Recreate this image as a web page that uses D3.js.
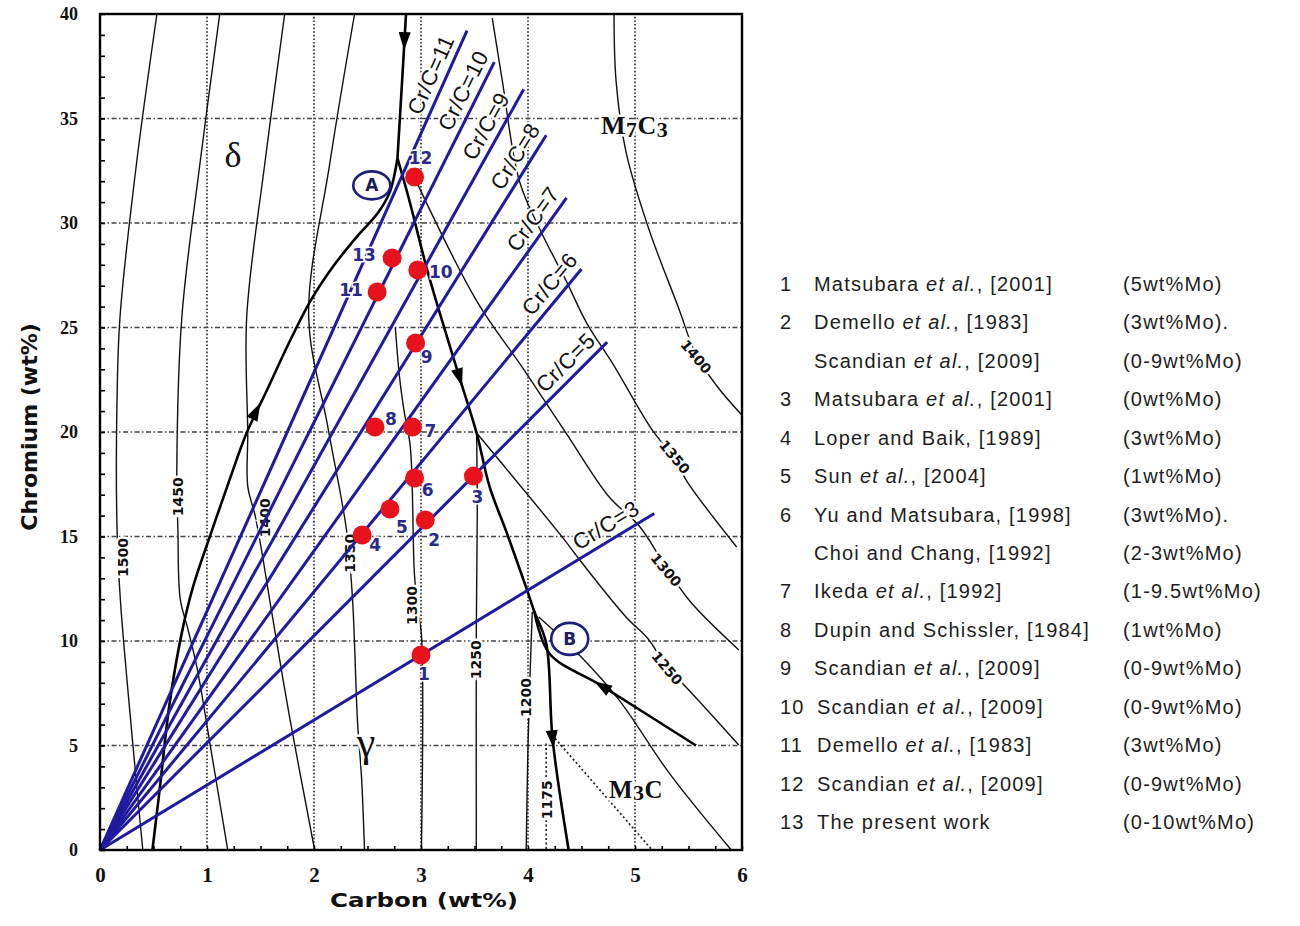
<!DOCTYPE html>
<html>
<head>
<meta charset="utf-8">
<script src="https://cdn.jsdelivr.net/npm/d3@7"></script>
<style>
  body { margin: 0; background: #fff; }
  svg { display: block; }
</style>
</head>
<body>
<div id="chart"></div>
<script>
// ---------- data (C wt%, Cr wt%) ----------
const xTicks = [0, 1, 2, 3, 4, 5, 6];
const yTicks = [0, 5, 10, 15, 20, 25, 30, 35, 40];

// Cr/C ratio lines from the origin
const crRatio = [11, 10, 9, 8, 7, 6, 5, 3];
const crEndC  = [3.43, 3.685, 3.96, 4.17, 4.36, 4.50, 4.74, 5.18];
const crEndCr = [39.2, 37.7, 36.4, 34.2, 31.2, 27.8, 24.3, 16.1];
const crLabelC = [3.22, 3.52, 3.73, 4.0, 4.16, 4.31, 4.45, 4.80];

// literature alloys
const pointId = ["1","2","3","4","5","6","7","8","9","10","11","12","13"];
const pointC  = [3.00, 3.04, 3.49, 2.45, 2.71, 2.94, 2.92, 2.57, 2.95, 2.97, 2.59, 2.94, 2.73];
const pointCr = [9.33, 15.79, 17.89, 15.07, 16.32, 17.80, 20.24, 20.24, 24.26, 27.75, 26.70, 32.20, 28.33];

// phase boundaries (thick)
const deltaGamma = [[0.49,0],[0.56,3.0],[0.65,7.0],[0.765,10.4],[0.87,12.6],[1.04,15.2],[1.21,17.7],[1.37,19.95],[1.56,22.0],[1.76,24.2],[1.97,26.3],[2.19,28.0],[2.41,29.4],[2.60,30.5],[2.71,31.5],[2.78,33.1]];
const topValley = [[2.86,40],[2.82,36.5],[2.78,33.1]];
const gammaM7 = [[2.78,33.1],[2.89,31.1],[3.05,27.9],[3.14,26.3],[3.36,22.6],[3.52,19.95],[3.64,17.4],[3.80,15.2],[3.98,12.6],[4.06,11.4],[4.17,9.9],[4.23,5.3],[4.38,0]];
const m7m3 = [[4.06,11.4],[4.20,9.4],[4.69,7.85],[5.57,5.0]];
const m3Liquidus = [[4.10,11.15],[4.48,9.33],[4.85,7.18],[5.32,3.68],[5.90,0]];
const m3Dotted = [[4.226,5.5],[5.16,0]];

// isotherms (thin)
const iso1500 = [[0.532,40],[0.34,32.8],[0.187,25.5],[0.159,21.5],[0.159,15.4],[0.19,12.0],[0.29,6.0],[0.40,0]];
const iso1450 = [[1.119,40],[0.933,32.8],[0.765,25.5],[0.718,18.3],[0.728,15.3],[0.75,12.0],[0.82,10.6],[0.905,8.76],[1.05,4.4],[1.194,0]];
const iso1400 = [[1.726,40],[1.539,32.8],[1.371,25.5],[1.381,19.95],[1.381,17.4],[1.45,16.0],[1.521,14.0],[1.586,11.96],[1.772,6.36],[2.006,0]];
const iso1350 = [[2.379,40],[2.146,32.8],[1.95,25.6],[2.127,20.3],[2.304,15.3],[2.36,12.0],[2.407,6.1],[2.444,3.5],[2.472,0]];
const iso1300 = [[2.76,25.0],[2.80,22.6],[2.845,20.9],[2.90,19.3],[2.938,13.25],[2.97,11.5],[3.004,10.3],[3.004,0]];
const iso1250g = [[3.517,0],[3.517,10.5],[3.526,16.1],[3.52,19.95]];
const iso1250m = [[3.52,19.95],[4.319,14.98],[4.506,13.73],[4.916,11.15],[5.131,10.05],[5.30,8.7],[5.476,7.8],[5.97,5.02]];
const iso1200 = [[4.04,11.4],[4.02,8.5],[4.0,5.0],[3.983,0]];
const iso1175 = [[4.17,5.1],[4.17,0]];
const iso1300m = [[2.90,32.6],[3.517,26.3],[3.946,23.1],[4.356,19.95],[4.757,16.9],[5.04,15.5],[5.27,13.7],[5.504,11.96],[5.97,9.57]];
const iso1350m = [[3.666,39.8],[3.76,36.8],[3.92,32.0],[4.13,29.5],[4.35,27.3],[4.55,25.2],[4.80,23.2],[5.16,20.1],[5.36,18.8],[5.49,17.6],[5.95,14.5]];
const iso1400m = [[4.804,40],[4.823,36.8],[4.916,33.4],[5.13,29.7],[5.41,25.9],[5.57,23.7],[5.765,22.2],[6.0,20.8]];

const isoText    = ["1500","1450","1400","1350","1300","1250","1200","1175","1400","1350","1300","1250"];
const isoLabelC  = [0.215, 0.728, 1.539, 2.332, 2.92, 3.517, 3.983, 4.18, 5.57, 5.37, 5.29, 5.30];
const isoLabelCr = [14.0, 16.9, 15.9, 14.2, 11.7, 9.1, 7.3, 2.4, 23.6, 18.8, 13.4, 8.7];

// arrows on the liquidus valleys
const arrowAt     = [[2.845,38.7],[1.46,21.0],[3.36,22.6],[4.23,5.3],[4.69,7.85]];
const arrowToward = [[2.838,37.5],[1.53,21.7],[3.40,21.9],[4.25,4.3],[4.55,8.30]];

// circled invariant points
const circleName = ["A","B"];
const circleC  = [2.54, 4.39];
const circleCr = [31.8, 10.1];

// legend table
const legendNum = ["1","2","","3","4","5","6","","7","8","9","10","11","12","13"];
const legendAuthor = ["Matsubara","Demello","Scandian","Matsubara","Loper and Baik,","Sun","Yu and Matsubara,","Choi and Chang,","Ikeda","Dupin and Schissler,","Scandian","Scandian","Demello","Scandian","The present work"];
const legendEtAl = [true,true,true,true,false,true,false,false,true,false,true,true,true,true,false];
const legendYear = ["[2001]","[1983]","[2009]","[2001]","[1989]","[2004]","[1998]","[1992]","[1992]","[1984]","[2009]","[2009]","[1983]","[2009]",""];
const legendMo = ["(5wt%Mo)","(3wt%Mo).","(0-9wt%Mo)","(0wt%Mo)","(3wt%Mo)","(1wt%Mo)","(3wt%Mo).","(2-3wt%Mo)","(1-9.5wt%Mo)","(1wt%Mo)","(0-9wt%Mo)","(0-9wt%Mo)","(3wt%Mo)","(0-9wt%Mo)","(0-10wt%Mo)"];

// ---------- layout ----------
const W = 1300, H = 926;
const serifB = "'Liberation Serif','Times New Roman',serif";
const sans = "'DejaVu Sans',Verdana,sans-serif";
const blue = "#1f1a9e", navy = "#2b2a8c";

const x = d3.scaleLinear().domain([0, 6]).range([100, 742]);
const y = d3.scaleLinear().domain([0, 40]).range([850, 14]);

const svg = d3.select("#chart").append("svg")
  .attr("width", W).attr("height", H);
svg.append("rect").attr("width", W).attr("height", H).attr("fill", "#fff");

const smooth = d3.line().x(d=>x(d[0])).y(d=>y(d[1])).curve(d3.curveCatmullRom.alpha(0.5));
const straight = d3.line().x(d=>x(d[0])).y(d=>y(d[1]));

// grid
svg.append("g").selectAll("line").data(xTicks.slice(1, -1)).join("line")
  .attr("x1", d=>x(d)).attr("x2", d=>x(d)).attr("y1", y(0)).attr("y2", y(40))
  .attr("stroke", "#333").attr("stroke-width", 1.7).attr("stroke-dasharray", "1.6,2");
svg.append("g").selectAll("line").data(yTicks.slice(1, -1)).join("line")
  .attr("x1", x(0)).attr("x2", x(6)).attr("y1", d=>y(d)).attr("y2", d=>y(d))
  .attr("stroke", "#444").attr("stroke-width", 1.3).attr("stroke-dasharray", "5,2.5,1.5,2.5");

// isotherms
const thin = [iso1500, iso1450, iso1400, iso1350, iso1300, iso1250g, iso1250m, iso1200,
              iso1300m, iso1350m, iso1400m, m3Liquidus];
svg.append("g").selectAll("path").data(thin).join("path")
  .attr("d", smooth).attr("fill", "none").attr("stroke", "#111").attr("stroke-width", 1.4);
svg.append("g").selectAll("path").data([iso1175, m3Dotted]).join("path")
  .attr("d", straight).attr("fill", "none").attr("stroke", "#222")
  .attr("stroke-width", 1.7).attr("stroke-dasharray", "2,2.5");

// boundaries
svg.append("g").selectAll("path").data([deltaGamma, topValley, gammaM7, m7m3]).join("path")
  .attr("d", smooth).attr("fill", "none").attr("stroke", "#000").attr("stroke-width", 2.6);

// isotherm labels
svg.append("g").selectAll("text").data(isoText).join("text")
  .attr("transform", (d,i)=>`translate(${x(isoLabelC[i])},${y(isoLabelCr[i])}) rotate(${i < 8 ? -90 : 50})`)
  .attr("text-anchor", "middle").attr("dominant-baseline", "central")
  .attr("font-family", sans).attr("font-weight", "bold").attr("font-size", 14)
  .attr("fill", "#111").attr("stroke", "#fff").attr("stroke-width", 5)
  .attr("paint-order", "stroke").text(d=>d);

// region labels
const region = svg.append("g").attr("fill", "#111").attr("stroke", "#fff")
  .attr("stroke-width", 5).attr("paint-order", "stroke");
region.append("text").attr("x", 233).attr("y", 167).attr("text-anchor", "middle")
  .attr("font-family", serifB).attr("font-size", 36).text("δ");
region.append("text").attr("x", 366).attr("y", 756).attr("text-anchor", "middle")
  .attr("font-family", serifB).attr("font-size", 42).text("γ");
const m7 = region.append("text").attr("x", 601).attr("y", 134)
  .attr("font-family", serifB).attr("font-weight", "bold").attr("font-size", 26)
  .attr("letter-spacing", 0.5);
m7.append("tspan").text("M");
m7.append("tspan").attr("font-size", 22).attr("dy", 3).text("7");
m7.append("tspan").attr("dy", -3).text("C");
m7.append("tspan").attr("font-size", 22).attr("dy", 3).text("3");
const m3 = region.append("text").attr("x", 609).attr("y", 798)
  .attr("font-family", serifB).attr("font-weight", "bold").attr("font-size", 25)
  .attr("letter-spacing", 0.5);
m3.append("tspan").text("M");
m3.append("tspan").attr("font-size", 22).attr("dy", 2).text("3");
m3.append("tspan").attr("dy", -2).text("C");

// Cr/C lines
svg.append("g").selectAll("line").data(crRatio).join("line")
  .attr("x1", x(0)).attr("y1", y(0))
  .attr("x2", (d,i)=>x(crEndC[i])).attr("y2", (d,i)=>y(crEndCr[i]))
  .attr("stroke", blue).attr("stroke-width", 3);

svg.append("g").selectAll("text").data(crRatio).join("text")
  .attr("transform", (d,i)=>{
    const x0 = x(0), y0 = y(0), x1 = x(crEndC[i]), y1 = y(crEndCr[i]);
    const a = Math.atan2(y1 - y0, x1 - x0);
    const t = crLabelC[i] / crEndC[i];
    const cx = x0 + (x1 - x0) * t + 15 * Math.sin(a);
    const cy = y0 + (y1 - y0) * t - 15 * Math.cos(a);
    return `translate(${cx},${cy}) rotate(${a * 180 / Math.PI})`;
  })
  .attr("text-anchor", "middle").attr("dominant-baseline", "central")
  .attr("font-family", "'Liberation Sans',Arial,sans-serif").attr("font-size", 22)
  .attr("letter-spacing", 0.5)
  .attr("fill", "#111").attr("stroke", "#fff").attr("stroke-width", 4)
  .attr("paint-order", "stroke").text(d=>"Cr/C=" + d);

// arrows
svg.append("g").selectAll("path").data(arrowAt).join("path")
  .attr("d", (d,i)=>{
    const px = x(d[0]), py = y(d[1]);
    const qx = x(arrowToward[i][0]), qy = y(arrowToward[i][1]);
    const a = Math.atan2(qy - py, qx - px), ux = Math.cos(a), uy = Math.sin(a);
    const L = 9, Wd = 6;
    return `M${px + L*ux},${py + L*uy}L${px - L*ux - Wd*uy},${py - L*uy + Wd*ux}L${px - L*ux + Wd*uy},${py - L*uy - Wd*ux}Z`;
  })
  .attr("fill", "#000");

// circled A / B
const circ = svg.append("g").selectAll("g").data(circleName).join("g")
  .attr("transform", (d,i)=>`translate(${x(circleC[i])},${y(circleCr[i])})`);
circ.append("ellipse").attr("rx", 18.5).attr("ry", (d,i)=> i ? 16 : 14)
  .attr("fill", "#fff").attr("stroke", "#1b1f7a").attr("stroke-width", 2.6);
circ.append("text").attr("text-anchor", "middle").attr("dominant-baseline", "central")
  .attr("font-family", sans).attr("font-weight", "bold").attr("font-size", 17)
  .attr("fill", "#1b1f5a").text(d=>d);

// frame and ticks
svg.append("rect").attr("x", x(0)).attr("y", y(40))
  .attr("width", x(6) - x(0)).attr("height", y(0) - y(40))
  .attr("fill", "none").attr("stroke", "#000").attr("stroke-width", 2.4);

svg.append("g").attr("transform", `translate(${x(0)},0)`)
  .call(d3.axisRight(y).tickValues(d3.range(0, 41)).tickSize(5).tickFormat(""))
  .call(g=>g.select(".domain").remove())
  .selectAll("line").attr("stroke-width", 1.6);
svg.append("g").attr("transform", `translate(0,${y(0)})`)
  .call(d3.axisTop(x).tickValues(d3.range(0, 6.01, 0.25)).tickSize(4).tickFormat(""))
  .call(g=>g.select(".domain").remove())
  .selectAll("line").attr("stroke-width", 1.6);

svg.append("g").attr("transform", `translate(${x(0)},0)`)
  .call(d3.axisLeft(y).tickValues(yTicks).tickSize(0).tickPadding(22).tickFormat(d3.format("d")))
  .call(g=>g.select(".domain").remove())
  .selectAll("text").attr("font-family", serifB).attr("font-weight", "bold")
  .attr("font-size", 18).attr("fill", "#111");
svg.append("g").attr("transform", `translate(0,${y(0)})`)
  .call(d3.axisBottom(x).tickValues(xTicks).tickSize(0).tickPadding(17).tickFormat(d3.format("d")))
  .call(g=>g.select(".domain").remove())
  .selectAll("text").attr("font-family", serifB).attr("font-weight", "bold")
  .attr("font-size", 21).attr("fill", "#111");

// points
svg.append("g").selectAll("circle").data(pointId).join("circle")
  .attr("cx", (d,i)=>x(pointC[i])).attr("cy", (d,i)=>y(pointCr[i]))
  .attr("r", 9.5).attr("fill", "#e8121c");

const labDx = [3, 9, 4, 13, 12, 13, 18, 16, 11, 23, -26, 6, -28];
const labDy = [19, 20, 21, 10, 18, 12, 4, -8, 14, 2, -2, -19, -3];
svg.append("g").selectAll("text").data(pointId).join("text")
  .attr("x", (d,i)=>x(pointC[i]) + labDx[i]).attr("y", (d,i)=>y(pointCr[i]) + labDy[i])
  .attr("text-anchor", "middle").attr("dominant-baseline", "central")
  .attr("font-family", sans).attr("font-weight", "bold").attr("font-size", 17)
  .attr("fill", navy).attr("stroke", "#fff").attr("stroke-width", 3)
  .attr("paint-order", "stroke").text(d=>d);

// axis titles
svg.append("text").attr("x", 424).attr("y", 907).attr("text-anchor", "middle")
  .attr("font-family", sans).attr("font-weight", "bold").attr("font-size", 20)
  .attr("textLength", 188).attr("lengthAdjust", "spacingAndGlyphs")
  .attr("fill", "#111").text("Carbon (wt%)");
svg.append("text").attr("transform", "translate(37,427) rotate(-90)")
  .attr("text-anchor", "middle")
  .attr("font-family", sans).attr("font-weight", "bold").attr("font-size", 22)
  .attr("fill", "#111").text("Chromium (wt%)");

// legend
const rowY = d3.scaleLinear().domain([0, legendNum.length - 1]).range([284, 822]);
const leg = svg.append("g").attr("font-family", "'Liberation Sans',Arial,sans-serif")
  .attr("font-size", 20).attr("letter-spacing", 1.2).attr("fill", "#1e1e1e");
legendAuthor.forEach((a, i)=>{
  const by = rowY(i) + 7;
  leg.append("text").attr("x", 780).attr("y", by).text(legendNum[i]);
  const t = leg.append("text").attr("x", legendNum[i].length > 1 ? 817 : 814).attr("y", by);
  if (legendEtAl[i]) {
    t.append("tspan").text(a + " ");
    t.append("tspan").attr("font-style", "italic").text("et al.");
    t.append("tspan").text(", " + legendYear[i]);
  } else {
    t.text(legendYear[i] ? a + " " + legendYear[i] : a);
  }
  leg.append("text").attr("x", 1123).attr("y", by).text(legendMo[i]);
});
</script>
</body>
</html>
